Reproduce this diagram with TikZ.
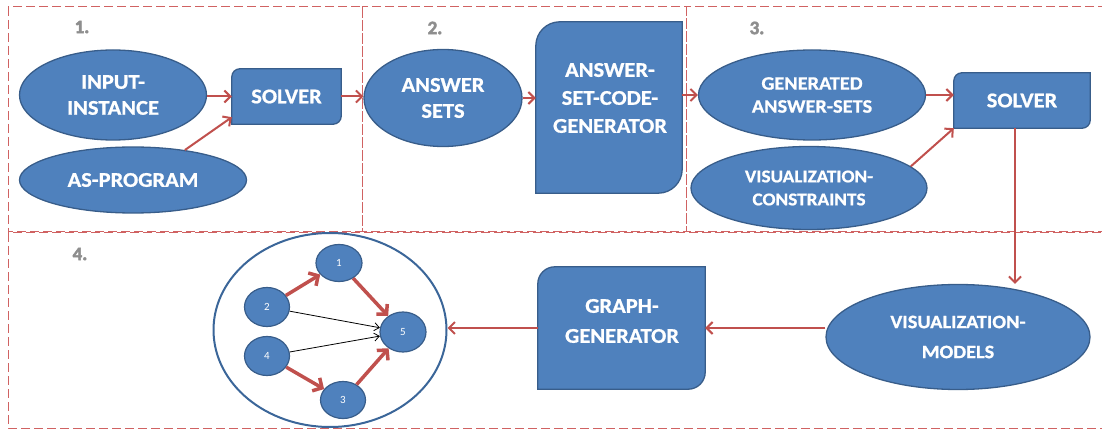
\documentclass[tikz,border=0pt]{standalone}
\usepackage{fontspec}
\setmainfont{Carlito}[BoldFont={Carlito Bold},BoldFeatures={FakeStretch=1.07,FakeBold=0.8}]
\newfontfamily\stepfont{Carlito Bold}[FakeBold=2.5]
\usetikzlibrary{shapes.geometric,arrows.meta,backgrounds,calc}

\definecolor{boxblue}{HTML}{4F81BD}
\definecolor{boxedge}{HTML}{385D8A}
\definecolor{flowred}{HTML}{C0504D}
\definecolor{framered}{HTML}{D06262}
\definecolor{ringblue}{HTML}{3B6699}
\definecolor{stepgray}{HTML}{8E8E8E}

% box with two rounded diagonal corners (top left, bottom right); #1 node, #2 radius
\newcommand\diagcorners[2]{%
  \begin{pgfonlayer}{background}
  \path[fill=boxblue,draw=boxedge,line width=1.3pt]
    (#1.south west) -- ([yshift=-#2pt]#1.north west)
    .. controls ([yshift=-0.448*#2pt]#1.north west) and ([xshift=0.448*#2pt]#1.north west)
    .. ([xshift=#2pt]#1.north west) -- (#1.north east)
    -- ([yshift=#2pt]#1.south east)
    .. controls ([yshift=0.448*#2pt]#1.south east) and ([xshift=-0.448*#2pt]#1.south east)
    .. ([xshift=-#2pt]#1.south east) -- cycle;
  \end{pgfonlayer}}

\tikzset{
  txt/.style={text=white,font=\fontsize{21}{26}\selectfont\bfseries,align=center},
  oval/.style={ellipse,fill=boxblue,draw=boxedge,line width=1.3pt,inner sep=0pt,txt},
  diagbox/.style={rectangle,draw=none,inner sep=0pt,txt},
  flow/.style={draw=flowred,line width=2pt,-{Straight Barb[length=6pt,width=12pt]}},
  frame/.style={draw=framered,line width=1pt,dash pattern=on 9pt off 4pt},
  steplabel/.style={text=stepgray,font=\fontsize{19}{22}\stepfont},
  gnode/.style={ellipse,fill=boxblue,draw=boxedge,line width=1.2pt,inner sep=0pt,
    text=white,font=\fontsize{11}{12}\selectfont},
  gred/.style={draw=flowred,line width=3.5pt,-{Straight Barb[length=7pt,width=15pt]}},
  gblack/.style={draw=black,line width=0.8pt,-{Straight Barb[length=5pt,width=8pt]}},
}

\begin{document}
\begin{tikzpicture}[x=1pt,y=-1pt]
\useasboundingbox (0,0) rectangle (1102,430);
\clip (0,0) rectangle (1102,430);

% stage frames
\draw[frame] (8,7) rectangle (362,232);
\draw[frame] (362,7) rectangle (686,232);
\draw[frame] (686,7) rectangle (1120,232);
\draw[frame] (8,233) rectangle (1120,428);

\node[steplabel] (s1) at (82,27) {1.};
\node[steplabel] (s2) at (435,28) {2.};
\node[steplabel] (s3) at (757,28) {3.};
\node[steplabel] (s4) at (80,254) {4.};

% stage 1
\node[oval,minimum width=187,minimum height=90] (inst) at (113,95) {INPUT-\\INSTANCE};
\node[oval,minimum width=227,minimum height=66] (asprog) at (133,180) {AS-PROGRAM};
\node[diagbox,minimum width=109,minimum height=55] (solverA) at (286.5,96.5) {SOLVER};
\diagcorners{solverA}{8}

% stage 2
\node[oval,minimum width=158,minimum height=97] (ans) at (443,98) {ANSWER\\SETS};
\node[diagbox,minimum width=146,minimum height=171] (ascg) at (609,107.5) {};
\diagcorners{ascg}{24}
\node[txt,font=\fontsize{21}{28}\selectfont\bfseries] (ascgtext) at (610,98) {ANSWER-\\SET-CODE-\\GENERATOR};

% stage 3
\node[oval,minimum width=227,minimum height=90,font=\fontsize{19}{23}\selectfont\bfseries] (gen) at (812,95) {GENERATED\\ANSWER-SETS};
\node[oval,minimum width=236,minimum height=83,font=\fontsize{18}{23}\selectfont\bfseries] (viscon) at (809,188) {VISUALIZATION-\\CONSTRAINTS};
\node[diagbox,minimum width=136,minimum height=55] (solverB) at (1022,100.5) {SOLVER};
\diagcorners{solverB}{8}

% stage 4
\node[oval,minimum width=264,minimum height=105,font=\fontsize{19}{30}\selectfont\bfseries] (vismod) at (958,337) {VISUALIZATION-\\MODELS};
\node[diagbox,minimum width=167,minimum height=122] (graphgen) at (621.5,328) {};
\diagcorners{graphgen}{17}
\node[txt,font=\fontsize{21}{30}\selectfont\bfseries] (ggtext) at (622,321) {GRAPH-\\GENERATOR};

% resulting graph
\node[ellipse,draw=ringblue,line width=2pt,fill=white,minimum width=233,minimum height=194] (big) at (330,330) {};
\node[gnode,minimum width=46,minimum height=37] (g1) at (339,263) {1};
\node[gnode,minimum width=45,minimum height=39] (g2) at (267,307) {2};
\node[gnode,minimum width=45,minimum height=39] (g4) at (267,356) {4};
\node[gnode,minimum width=45,minimum height=37] (g3) at (343,400) {3};
\node[gnode,minimum width=46,minimum height=40] (g5) at (403,332) {5};

\draw[gred] (g2) -- (g1);
\draw[gred] (g1) -- (g5);
\draw[gred] (g4) -- (g3);
\draw[gred] (g3) -- (g5);
\draw[gblack] (g2) -- (g5);
\draw[gblack] (g4) -- (g5);

% flow connectors
\draw[flow] (inst.east |- solverA.west) -- (solverA.west);
\draw[flow] (asprog.30) -- ([yshift=7pt]solverA.south west);
\draw[flow] (solverA.east) -- (solverA.east -| ans.west);
\draw[flow] (ans.east) -- (ans.east -| ascg.west);
\draw[flow] (ascg.east |- gen.east) -- (gen.west);
\draw[flow] (gen.east) -- (gen.east -| solverB.west);
\draw[flow] (viscon.12) -- (solverB.south west);
\coordinate (drop) at (1015,0);
\draw[flow] (drop |- solverB.south) -- (drop |- vismod.north);
\draw[flow] (graphgen.east -| vismod.west) -- (graphgen.east);
\draw[flow] (graphgen.west) -- (graphgen.west -| big.east);
\end{tikzpicture}
\end{document}
